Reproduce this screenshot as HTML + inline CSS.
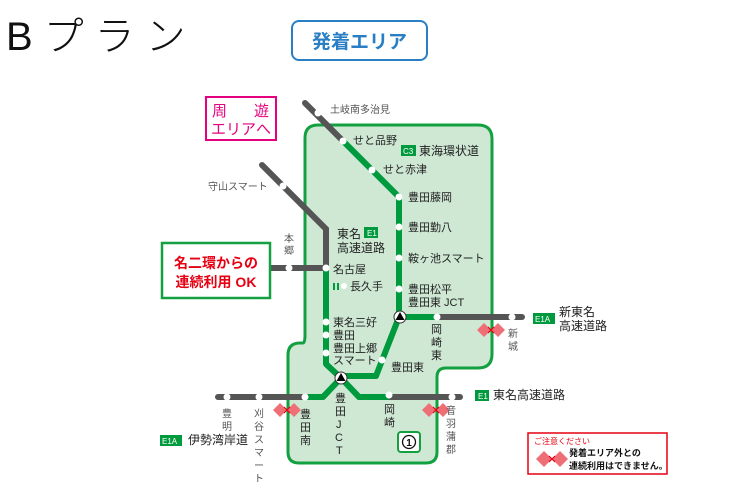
<!DOCTYPE html>
<html><head><meta charset="utf-8"><style>
body{margin:0;background:#fff;}
svg{display:block;font-family:"Liberation Sans","Noto Sans CJK JP",sans-serif;}
</style></head><body>
<svg width="730" height="487" viewBox="0 0 730 487" xmlns="http://www.w3.org/2000/svg">
<text x="6" y="50" font-size="40" fill="#111" font-weight="300" letter-spacing="11">Bプラン</text>
<rect x="292" y="21" width="135" height="39" rx="7" fill="#fff" stroke="#2a7fc4" stroke-width="2"/>
<text x="359.5" y="48" font-size="19" fill="#2a7fc4" font-weight="bold" text-anchor="middle">発着エリア</text>

<path d="M318,125 H478 Q492,125 492,139 V354 Q492,368 478,368 H446 Q437,368 437,377 V452 Q437,463 426,463 H299 Q288,463 288,452 V355 Q288,343 300,343 H303 Q305,343 305,335 V138 Q305,125 318,125 Z" fill="#cfe8d4" stroke="#13a040" stroke-width="3"/>

<rect x="206" y="97" width="70" height="43" fill="#fff" stroke="#e4007f" stroke-width="2"/>
<text x="212" y="116" font-size="15" fill="#e4007f">周</text>
<text x="254" y="116" font-size="15" fill="#e4007f">遊</text>
<text x="211" y="134" font-size="15" fill="#e4007f">エリアへ</text>

<g stroke="#555" stroke-width="6" stroke-linecap="round" fill="none">
<path d="M305,103 L343,141"/>
<path d="M262,165 L326,229 V268"/>
<path d="M270,268 H326"/>
<path d="M218,397 H305"/>
<path d="M389,397 H460"/>
<path d="M438,317 H522"/>
</g>
<g stroke="#009a3e" stroke-width="6" stroke-linejoin="round" fill="none">
<path d="M343,141 L399,197 V317 L376,376 H341"/>
<path d="M326,268 V364 L341,378"/>
<path d="M341,378 L323,397 H305"/>
<path d="M341,378 L359,397 H389"/>
<path d="M400,317 H438"/>
</g>
<g fill="#fff">
<circle cx="318" cy="113" r="3.5"/><circle cx="283" cy="186" r="3.5"/><circle cx="289" cy="268" r="3.5"/>
<circle cx="343" cy="141" r="3.5"/><circle cx="372" cy="170" r="3.5"/><circle cx="399" cy="197" r="3.5"/>
<circle cx="399" cy="227" r="3.5"/><circle cx="399" cy="258" r="3.5"/><circle cx="399" cy="289" r="3.5"/>
<circle cx="326" cy="268" r="3.5"/><circle cx="326" cy="322" r="3.5"/><circle cx="326" cy="335" r="3.5"/><circle cx="326" cy="353" r="3.5"/>
<circle cx="382" cy="360" r="3.5"/><circle cx="437" cy="317" r="3.5"/><circle cx="512" cy="317" r="3.5"/>
<circle cx="305" cy="397" r="3.5"/><circle cx="259" cy="397" r="3.5"/><circle cx="227" cy="397" r="3.5"/>
<circle cx="389" cy="395" r="3.5"/><circle cx="452" cy="397" r="3.5"/>
<circle cx="344" cy="286" r="3"/>
</g>
<rect x="333" y="283" width="2" height="7" fill="#009a3e"/><rect x="337" y="283" width="2" height="7" fill="#009a3e"/>
<g>
<circle cx="400" cy="317" r="6" fill="#fff" stroke="#333" stroke-width="1"/><path d="M400,312 L404.5,320 H395.5Z" fill="#000"/>
<circle cx="341" cy="378" r="6" fill="#fff" stroke="#333" stroke-width="1"/><path d="M341,373 L345.5,381 H336.5Z" fill="#000"/>
</g>

<g>
<path d="M273,410 l7,-7 l7,7 l-7,7z M287,410 l7,-7 l7,7 l-7,7z" fill="#ee6f75"/>
<path d="M422,410 l7,-7 l7,7 l-7,7z M436,410 l7,-7 l7,7 l-7,7z" fill="#ee6f75"/>
<path d="M477,330 l7,-7 l7,7 l-7,7z M491,330 l7,-7 l7,7 l-7,7z" fill="#ee6f75"/>
<g stroke="#e60012" stroke-width="1.2"><path d="M284,407 l6,6 M290,407 l-6,6"/><path d="M433,407 l6,6 M439,407 l-6,6"/><path d="M488,327 l6,6 M494,327 l-6,6"/></g>
</g>

<g font-size="10" fill="#555">
<text x="330" y="113">土岐南多治見</text>
<text x="208" y="190">守山スマート</text>
<text x="284" y="242">本</text><text x="284" y="254">郷</text>
<text x="222" y="417">豊</text><text x="222" y="430">明</text>
<g><text x="254" y="417">刈</text><text x="254" y="430">谷</text><text x="254" y="443">ス</text><text x="254" y="456">マ</text><text x="254" y="469">ー</text><text x="254" y="482">ト</text></g>
<text x="446" y="414">音</text><text x="446" y="427">羽</text><text x="446" y="440">蒲</text><text x="446" y="453">郡</text>
<text x="508" y="337">新</text><text x="508" y="350">城</text>
</g>
<g font-size="11" fill="#222">
<text x="353" y="144">せと品野</text>
<text x="383" y="173">せと赤津</text>
<text x="408" y="201">豊田藤岡</text>
<text x="408" y="231">豊田勤八</text>
<text x="408" y="262">鞍ヶ池スマート</text>
<text x="408" y="293">豊田松平</text>
<text x="408" y="306">豊田東 JCT</text>
<text x="337" y="238" font-size="12">東名</text>
<text x="337" y="252" font-size="12">高速道路</text>
<text x="333" y="273">名古屋</text>
<text x="350" y="290">長久手</text>
<text x="333" y="326">東名三好</text>
<text x="333" y="339">豊田</text>
<text x="333" y="352">豊田上郷</text>
<text x="333" y="364">スマート</text>
<text x="391" y="371">豊田東</text>
<text x="431" y="333">岡</text><text x="431" y="346">崎</text><text x="431" y="359">東</text>
<text x="335" y="402">豊</text><text x="335" y="415">田</text><text x="336" y="428">J</text><text x="335" y="441">C</text><text x="336" y="454">T</text>
<text x="300" y="418">豊</text><text x="300" y="431">田</text><text x="300" y="444">南</text>
<text x="384" y="413">岡</text><text x="384" y="426">崎</text>
<text x="419" y="155" font-size="12">東海環状道</text>
<text x="559" y="316" font-size="12">新東名</text>
<text x="559" y="330" font-size="12">高速道路</text>
<text x="493" y="399" font-size="12">東名高速道路</text>
<text x="188" y="444" font-size="12">伊勢湾岸道</text>
</g>
<g font-size="8" fill="#fff">
<rect x="401" y="145" width="15" height="11" fill="#009a3e"/><text x="403" y="154">C3</text>
<rect x="364" y="227" width="14" height="11" fill="#009a3e"/><text x="367" y="236">E1</text>
<rect x="533" y="313" width="22" height="11" fill="#009a3e"/><text x="535" y="322">E1A</text>
<rect x="475" y="390" width="14" height="11" fill="#009a3e"/><text x="478" y="399">E1</text>
<rect x="160" y="435" width="22" height="11" fill="#009a3e"/><text x="162" y="444">E1A</text>
</g>
<rect x="398" y="432" width="22" height="20" rx="3" fill="#fff" stroke="#13a040" stroke-width="2"/>
<circle cx="409" cy="442" r="6.5" fill="none" stroke="#111" stroke-width="1.3"/>
<text x="409" y="446" font-size="10" font-weight="bold" text-anchor="middle" fill="#111">1</text>

<rect x="162" y="243" width="108" height="55" fill="#fff" stroke="#13a040" stroke-width="2.5"/>
<text x="216" y="268" font-size="14" font-weight="bold" fill="#e60012" text-anchor="middle">名二環からの</text>
<text x="216" y="287" font-size="14" font-weight="bold" fill="#e60012" text-anchor="middle">連続利用 OK</text>

<rect x="528" y="433" width="139" height="41" fill="#fff" stroke="#e60012" stroke-width="1.5"/>
<text x="534" y="444" font-size="8" fill="#e60012">ご注意ください</text>
<path d="M536,459 l8,-8 l8,8 l-8,8z M552,459 l8,-8 l8,8 l-8,8z" fill="#ee6f75"/>
<path d="M549,456 l6,6 M555,456 l-6,6" stroke="#e60012" stroke-width="1.2"/>
<text x="569" y="456" font-size="9" font-weight="bold" fill="#111">発着エリア外との</text>
<text x="569" y="469" font-size="9" font-weight="bold" fill="#111">連続利用はできません。</text>
</svg>
</body></html>
